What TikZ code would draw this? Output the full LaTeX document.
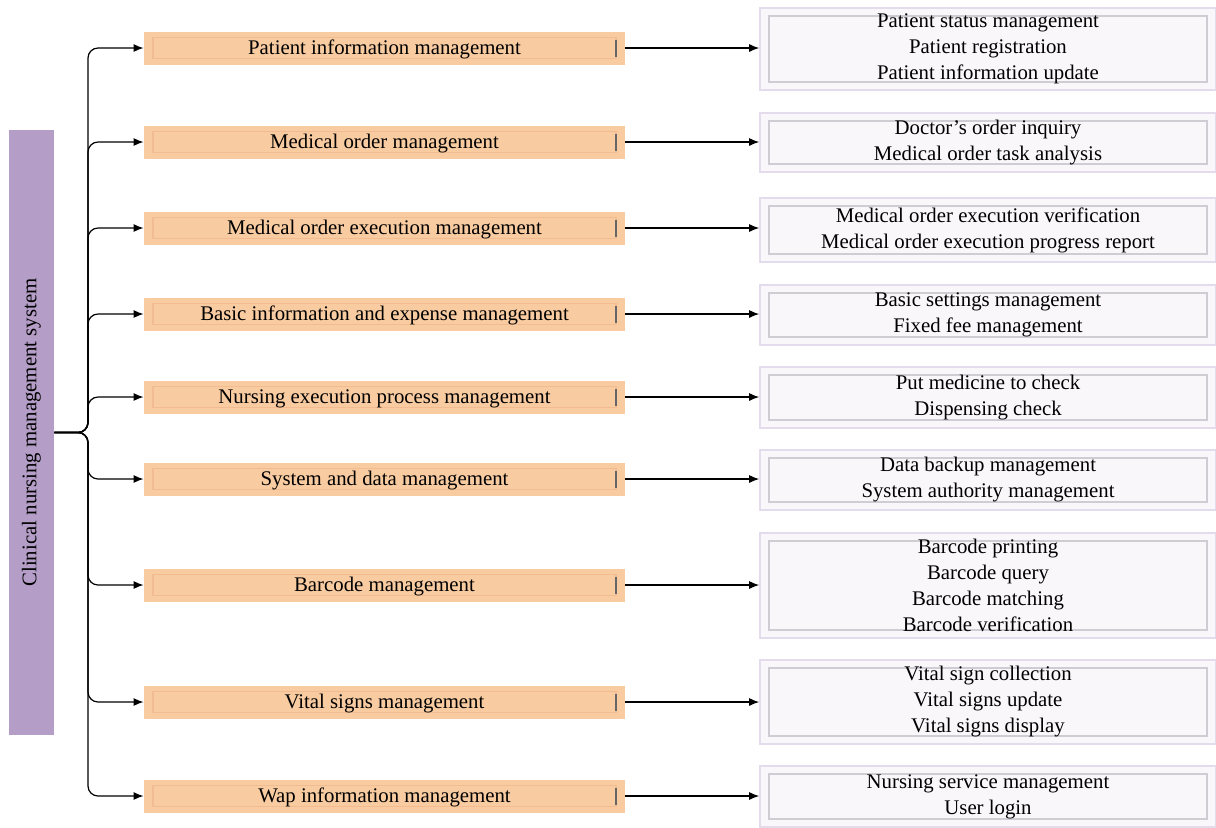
\documentclass[tikz,border=0pt]{standalone}
\usepackage{fontspec}
\setmainfont{Liberation Serif}
\usetikzlibrary{arrows.meta}

\definecolor{sysfill}{RGB}{180,157,199}
\definecolor{modfill}{RGB}{248,203,161}
\definecolor{modline}{RGB}{241,188,146}
\definecolor{detfill}{RGB}{249,247,250}
\definecolor{detedge}{RGB}{228,220,236}
\definecolor{detline}{RGB}{208,204,212}

\tikzset{
  system/.style={fill=sysfill, minimum width=22.5pt, minimum height=302.5pt, inner sep=0pt},
  module/.style={fill=modfill, minimum width=240.5pt, minimum height=16.5pt, inner sep=0pt,
    text depth=0.5pt,
    path picture={
      \draw[modline, line width=0.7pt] ([shift={(4.5pt,-3pt)}]path picture bounding box.north west)
        rectangle ([shift={(-4.5pt,3pt)}]path picture bounding box.south east);
      \draw[black!60, line width=0.6pt] ([shift={(-4.5pt,-4pt)}]path picture bounding box.north east)
        -- ([shift={(-4.5pt,4pt)}]path picture bounding box.south east);
    }},
  detail/.style={fill=detfill, draw=detedge, line width=0.8pt, minimum width=228pt, inner sep=0pt,
    align=center,
    path picture={
      \draw[detline, line width=0.6pt] ([shift={(4.5pt,-4pt)}]path picture bounding box.north west)
        rectangle ([shift={(-4.5pt,4pt)}]path picture bounding box.south east);
    }},
  link/.style={-{Latex[length=5pt,width=4pt]}, line width=0.6pt}
}

\begin{document}
\begin{tikzpicture}[x=0.5pt, y=-0.5pt, font=\fontsize{10.4}{13}\selectfont]
\useasboundingbox (0,0) rectangle (1216,827);

% main system block
\node[system] (sys) at (31.5,432.5) {\rotatebox{90}{Clinical nursing management system}};

% modules
\node[module] (m1) at (384.5,48) {Patient information management};
\node[module] (m2) at (384.5,142) {Medical order management};
\node[module] (m3) at (384.5,228) {Medical order execution management};
\node[module] (m4) at (384.5,314) {Basic information and expense management};
\node[module] (m5) at (384.5,397) {Nursing execution process management};
\node[module] (m6) at (384.5,479) {System and data management};
\node[module] (m7) at (384.5,585) {Barcode management};
\node[module] (m8) at (384.5,702) {Vital signs management};
\node[module] (m9) at (384.5,796) {Wap information management};

% function lists
\node[detail, minimum height=41pt] (d1) at (988,49) {Patient status management\\Patient registration\\Patient information update};
\node[detail, minimum height=29.5pt] (d2) at (988,142.5) {Doctor's order inquiry\\Medical order task analysis};
\node[detail, minimum height=32pt] (d3) at (988,230) {Medical order execution verification\\Medical order execution progress report};
\node[detail, minimum height=30pt] (d4) at (988,315) {Basic settings management\\Fixed fee management};
\node[detail, minimum height=30.5pt] (d5) at (988,397.5) {Put medicine to check\\Dispensing check};
\node[detail, minimum height=30pt] (d6) at (988,480) {Data backup management\\System authority management};
\node[detail, minimum height=52.5pt] (d7) at (988,585.5) {Barcode printing\\Barcode query\\Barcode matching\\Barcode verification};
\node[detail, minimum height=42pt] (d8) at (988,702) {Vital sign collection\\Vital signs update\\Vital signs display};
\node[detail, minimum height=30.5pt] (d9) at (988,796.5) {Nursing service management\\User login};

% tree from system to modules
\coordinate (fork) at (88,432.5);
\foreach \i in {1,...,9}{
  \draw[link, rounded corners=5pt] (sys.east) -- (fork) |- (m\i.west);
  \draw[link] (m\i.east) -- (m\i.east -| d\i.west);
}
\end{tikzpicture}
\end{document}
